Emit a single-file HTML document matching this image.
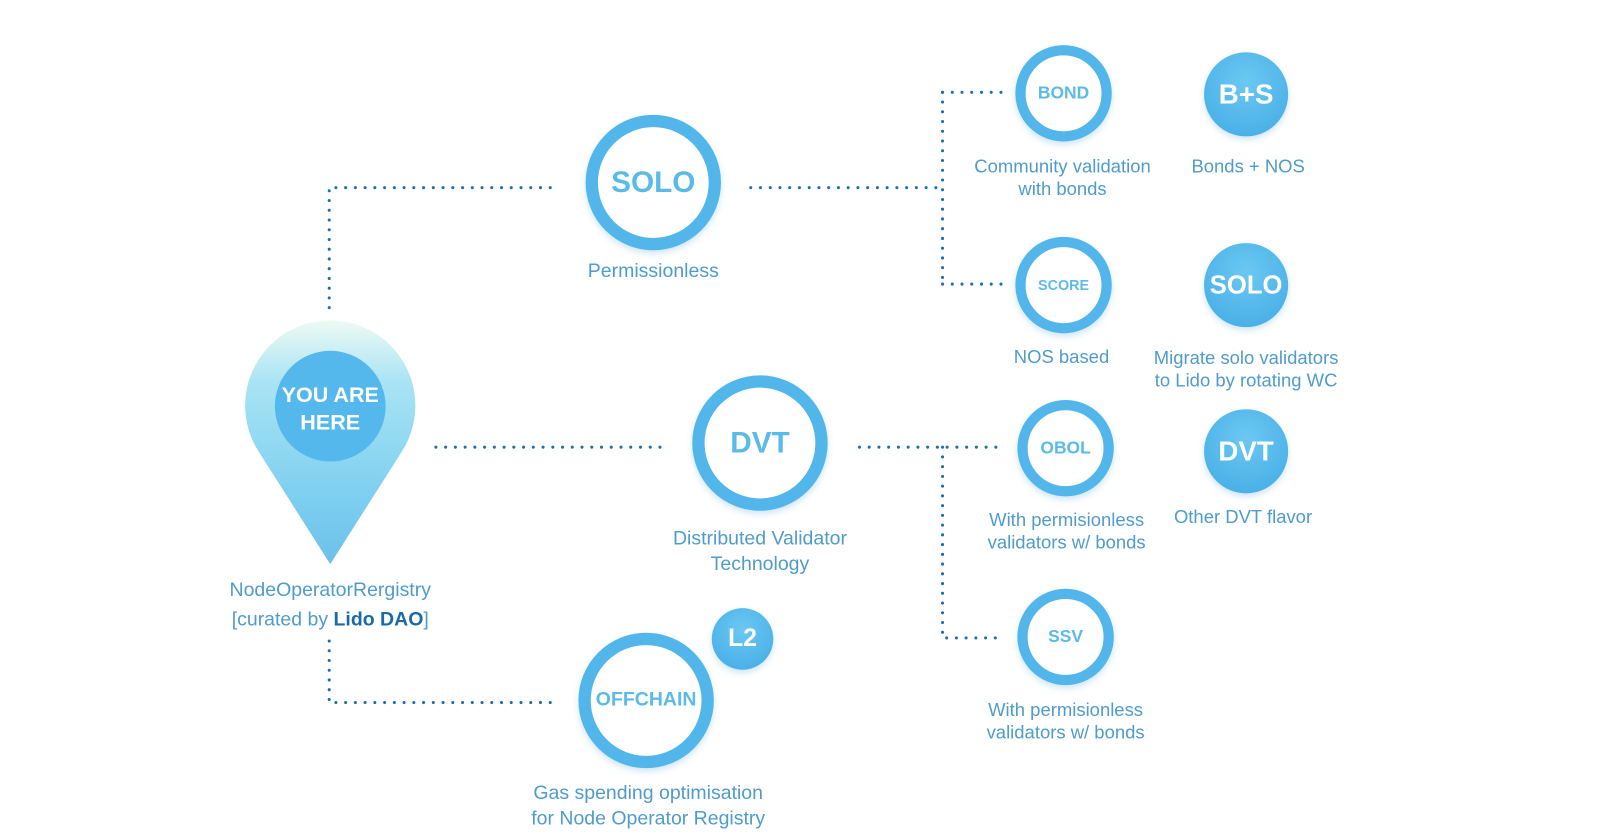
<!DOCTYPE html>
<html><head><style>
body{margin:0;width:1600px;height:838px;background:#fff;overflow:hidden;font-family:"Liberation Sans",sans-serif;}
#w{position:absolute;left:0;top:0;width:1560px;height:817px;transform:scale(1.0256);transform-origin:0 0;}
.ring{position:absolute;border-radius:50%;box-sizing:border-box;background:#fff;display:flex;align-items:center;justify-content:center;color:#5bbbe8;font-weight:bold;box-shadow:0 3px 6px rgba(60,150,210,.25);}
.solid{position:absolute;border-radius:50%;background:radial-gradient(circle at 50% 35%,#6cc8f2,#4db3e8 70%,#45a8e0);display:flex;align-items:center;justify-content:center;color:#fff;font-weight:bold;box-shadow:0 3px 6px rgba(60,150,210,.25);}
.lbl{position:absolute;text-align:center;color:#4f9ccc;font-size:18px;line-height:22px;transform:translateX(-50%);white-space:nowrap;}
</style></head><body><div id="w">
<svg width="1560" height="817" style="position:absolute;left:0;top:0">
<g stroke="#1e6ea8" stroke-width="3" stroke-linecap="round" stroke-dasharray="0 9.5" fill="none">
<path d="M321 300V183H545"/>
<path d="M732 183H918"/>
<path d="M919 90V277"/>
<path d="M919 90H980M919 277H980"/>
<path d="M425 436H650"/>
<path d="M838 436H980"/>
<path d="M919 436V622H980"/>
<path d="M321 625V685H545"/>
</g>
<defs>
<linearGradient id="pg" x1="0" y1="0" x2="0" y2="1">
<stop offset="0" stop-color="#eefaf4"/><stop offset=".25" stop-color="#a9e4f4"/><stop offset=".7" stop-color="#7fd0f0"/><stop offset="1" stop-color="#6cc0ea"/>
</linearGradient>
</defs>
<path d="M322 550 L252 440 A83 83 0 1 1 392 440 Z" fill="url(#pg)"/>
<circle cx="322" cy="396" r="54" fill="#55b8ec"/>
</svg>
<div style="position:absolute;left:268px;top:372px;width:108px;text-align:center;color:#fff;font-weight:bold;font-size:21px;line-height:27px">YOU ARE<br>HERE</div>

<div class="ring" style="left:571px;top:112px;width:132px;height:132px;border:12px solid #52b6ea;font-size:29px">SOLO</div>
<div class="ring" style="left:675px;top:366px;width:132px;height:132px;border:12px solid #52b6ea;font-size:29px">DVT</div>
<div class="ring" style="left:564px;top:617px;width:132px;height:132px;border:12px solid #52b6ea;font-size:19px">OFFCHAIN</div>
<div class="solid" style="left:694px;top:593px;width:60px;height:60px;font-size:24px">L2</div>

<div class="ring" style="left:990px;top:44px;width:94px;height:94px;border:10px solid #52b6ea;font-size:17px">BOND</div>
<div class="ring" style="left:990px;top:231px;width:94px;height:94px;border:10px solid #52b6ea;font-size:14px">SCORE</div>
<div class="ring" style="left:992px;top:390px;width:94px;height:94px;border:10px solid #52b6ea;font-size:17px">OBOL</div>
<div class="ring" style="left:992px;top:574px;width:94px;height:94px;border:10px solid #52b6ea;font-size:17px">SSV</div>

<div class="solid" style="left:1174px;top:51px;width:82px;height:82px;font-size:27px">B+S</div>
<div class="solid" style="left:1174px;top:237px;width:82px;height:82px;font-size:25px">SOLO</div>
<div class="solid" style="left:1174px;top:399px;width:82px;height:82px;font-size:27px">DVT</div>

<div class="lbl" style="left:637px;top:254px;font-size:19px">Permissionless</div>
<div class="lbl" style="left:741px;top:513px;font-size:19px;line-height:25px">Distributed Validator<br>Technology</div>
<div class="lbl" style="left:632px;top:761px;font-size:19px;line-height:25px">Gas spending optimisation<br>for Node Operator Registry</div>
<div class="lbl" style="left:322px;top:561px;font-size:19px;line-height:29px">NodeOperatorRergistry<br>[curated by <b style="color:#1a6aa8">Lido DAO</b>]</div>
<div class="lbl" style="left:1036px;top:151px">Community validation<br>with bonds</div>
<div class="lbl" style="left:1217px;top:151px">Bonds + NOS</div>
<div class="lbl" style="left:1035px;top:337px">NOS based</div>
<div class="lbl" style="left:1215px;top:338px">Migrate solo validators<br>to Lido by rotating WC</div>
<div class="lbl" style="left:1040px;top:496px">With permisionless<br>validators w/ bonds</div>
<div class="lbl" style="left:1212px;top:493px">Other DVT flavor</div>
<div class="lbl" style="left:1039px;top:681px">With permisionless<br>validators w/ bonds</div>
</div></body></html>
